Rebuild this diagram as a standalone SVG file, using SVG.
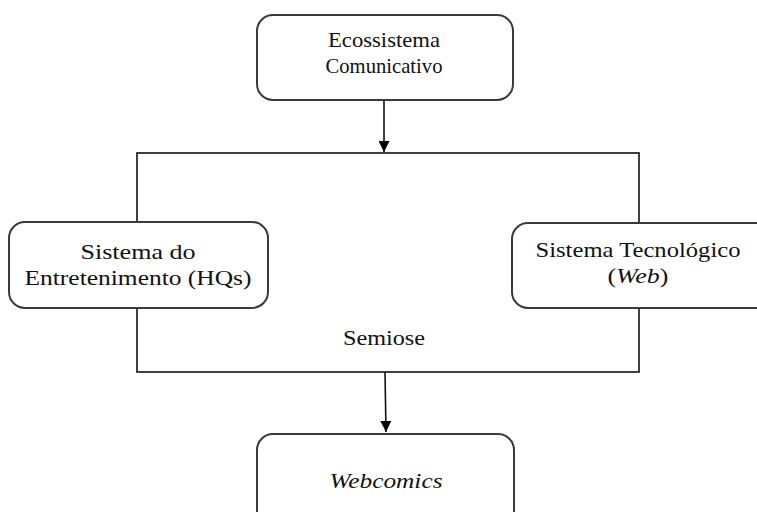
<svg xmlns="http://www.w3.org/2000/svg" width="757" height="512" viewBox="0 0 757 512">
  <defs>
    <marker id="arrow" viewBox="0 0 10 10" refX="10" refY="5" markerWidth="12" markerHeight="11" markerUnits="userSpaceOnUse" orient="auto">
      <path d="M0,0 L10,5 L0,10 z" fill="#000"/>
    </marker>
  </defs>
  <style>
    .box { fill: #fff; stroke: #3a3a3a; stroke-width: 2; }
    .line { fill: none; stroke: #111; stroke-width: 1.6; }
    text { font-family: "Liberation Serif", "Times New Roman", serif; font-size: 22px; fill: #111; text-anchor: middle; }
    .it { font-style: italic; }
  </style>

  <rect width="757" height="512" fill="#fff"/>

  <!-- connectors -->
  <g id="connectors">
    <line class="line" x1="384" y1="100" x2="384" y2="152" marker-end="url(#arrow)"/>
    <rect class="line" x="137" y="153" width="502" height="219"/>
    <line class="line" x1="385" y1="372" x2="386" y2="432" marker-end="url(#arrow)"/>
  </g>

  <g id="ecossistema">
    <rect class="box" x="257" y="15" width="256" height="85" rx="16"/>
    <text x="384" y="47" textLength="112" lengthAdjust="spacingAndGlyphs">Ecossistema</text>
    <text x="384" y="73" textLength="117" lengthAdjust="spacingAndGlyphs">Comunicativo</text>
  </g>

  <g id="entretenimento">
    <rect class="box" x="9" y="222" width="259" height="86" rx="16"/>
    <text x="138" y="259" textLength="115" lengthAdjust="spacingAndGlyphs">Sistema do</text>
    <text x="138" y="285" textLength="227" lengthAdjust="spacingAndGlyphs">Entretenimento (HQs)</text>
  </g>

  <g id="tecnologico">
    <rect class="box" x="512" y="223" width="260" height="85" rx="16"/>
    <text x="638" y="257" textLength="205" lengthAdjust="spacingAndGlyphs">Sistema Tecnológico</text>
    <text x="638" y="283" textLength="61" lengthAdjust="spacingAndGlyphs">(<tspan class="it">Web</tspan>)</text>
  </g>

  <g id="semiose">
    <text x="384" y="345" textLength="82" lengthAdjust="spacingAndGlyphs">Semiose</text>
  </g>

  <g id="webcomics">
    <rect class="box" x="257" y="434" width="257" height="95" rx="16"/>
    <text class="it" x="386" y="488" textLength="113" lengthAdjust="spacingAndGlyphs">Webcomics</text>
  </g>
</svg>
